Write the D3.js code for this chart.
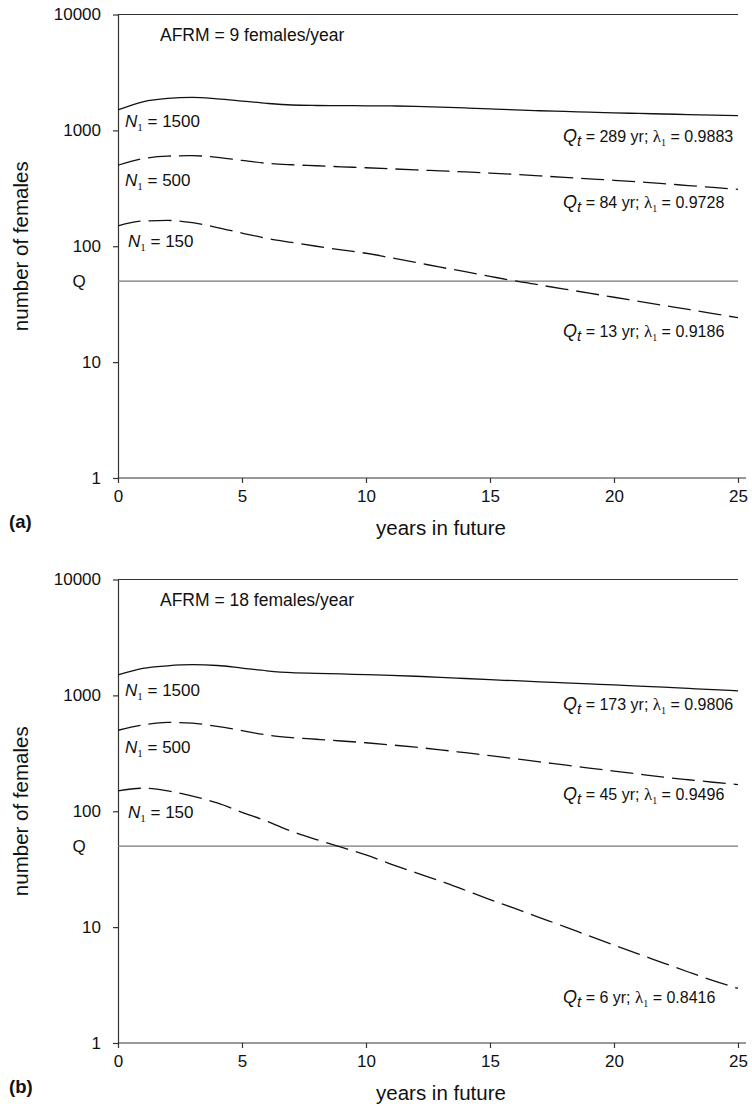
<!DOCTYPE html>
<html>
<head>
<meta charset="utf-8">
<script src="https://cdn.jsdelivr.net/npm/d3@7"></script>
<style>
  body { margin: 0; background: #fff; }
  text { font-family: "Liberation Sans", Arial, Helvetica, sans-serif; fill: #111; }
</style>
</head>
<body>
<div id="chart"></div>
<script>
// years on the x axis
var years = d3.range(0, 26);

// tick values
var xTicks = [0, 5, 10, 15, 20, 25];
var yTicks = [1, 10, 100, 1000, 10000];

// quasi-extinction threshold Q
var quasiQ = 50;

// starting sizes and AFRM per panel
var startSizes = [1500, 500, 150];
var afrm = [9, 18];
var panelNames = ["(a)", "(b)"];

// panel (a): AFRM = 9 females/year
var a1500 = [1500, 1765, 1890, 1925, 1870, 1790, 1710, 1655, 1640, 1635, 1630, 1625, 1612,
             1590, 1562, 1532, 1502, 1477, 1456, 1436, 1417, 1400, 1385, 1370, 1355, 1340];
var a500 = [500, 570, 600, 605, 585, 550, 520, 505, 495, 485, 476, 466, 456,
            447, 438, 428, 417, 405, 393, 382, 371, 359, 347, 334, 322, 310];
var a150 = [150, 165, 167, 160, 145, 130, 117, 108, 100, 93, 87, 79.5, 72.5,
            66, 60.3, 55, 50.2, 46.3, 42.7, 39.4, 36.3, 33.5, 30.9, 28.5, 26.2, 24.2];

// panel (b): AFRM = 18 females/year
var b1500 = [1500, 1710, 1800, 1840, 1810, 1720, 1630, 1570, 1550, 1530, 1510, 1490, 1462,
             1432, 1398, 1366, 1338, 1310, 1282, 1256, 1230, 1204, 1176, 1148, 1120, 1095];
var b500 = [500, 555, 585, 575, 540, 497, 455, 432, 418, 404, 390, 374, 357,
            339, 320, 302, 284, 267, 251, 236, 222, 209, 197, 187, 178, 170];
var b150 = [150, 158, 150, 135, 118, 98, 82, 67, 57, 49, 42, 35, 29.5,
            25, 20.8, 17.3, 14.5, 12.1, 10.1, 8.4, 7.0, 5.85, 4.9, 4.1, 3.45, 2.96];

// time to quasi-extinction and dominant eigenvalue
var qtYears = [[289, 84, 13], [173, 45, 6]];
var lambdas = [["0.9883", "0.9728", "0.9186"], ["0.9806", "0.9496", "0.8416"]];

var panelSeries = [[a1500, a500, a150], [b1500, b500, b150]];

var svgWidth = 752;
var svgHeight = 1112;

var svg = d3.select("#chart")
  .append("svg")
  .attr("width", svgWidth)
  .attr("height", svgHeight);

var left = 118;
var chartWidth = 620;
var chartHeight = 463.5;
var panelTops = [14.5, 579.5];

var xScale = d3.scaleLinear()
  .domain([0, 25])
  .range([left, left + chartWidth]);

// label offsets (relative to the first / last point of each curve)
var nOffsets = [[17, 21, 21], [21, 23, 27]];
var nX = [125, 125, 128];
var qOffsets = [[26, 18.5, 19], [19.5, 15.5, 14.5]];

function nLabel(g, x, y, n) {
  var t = g.append("text").attr("x", x).attr("y", y).attr("font-size", 17);
  t.append("tspan").attr("font-style", "italic").text("N");
  t.append("tspan").attr("font-family", "Liberation Serif").attr("font-size", 11).attr("dy", 4).text("1");
  t.append("tspan").attr("dy", -4).text(" = " + n);
}

function qLabel(g, x, y, qt, lam) {
  var t = g.append("text").attr("x", x).attr("y", y).attr("font-size", 16);
  t.append("tspan").attr("font-style", "italic").attr("font-size", 18).text("Q");
  t.append("tspan").attr("font-style", "italic").attr("font-size", 15).attr("dy", 4).text("t");
  t.append("tspan").attr("dy", -4).text(" = " + qt + " yr; ");
  t.append("tspan").attr("font-family", "Liberation Serif").attr("font-size", 17).text("\u03bb");
  t.append("tspan").attr("font-family", "Liberation Serif").attr("font-size", 10).attr("dy", 4).text("1");
  t.append("tspan").attr("dy", -4).text(" = " + lam);
}

panelTops.forEach(function(top, p) {
  var bottom = top + chartHeight;
  var yScale = d3.scaleLog()
    .domain([1, 10000])
    .range([bottom, top]);

  var g = svg.append("g");

  // top border
  g.append("line")
    .attr("x1", xScale(0)).attr("x2", xScale(25))
    .attr("y1", top).attr("y2", top)
    .attr("stroke", "#333").attr("stroke-width", 1.2);

  // left axis
  var leftAxis = d3.axisLeft(yScale)
    .tickValues(yTicks)
    .tickFormat(d3.format("d"))
    .tickSizeInner(5)
    .tickSizeOuter(0)
    .tickPadding(12);

  var ya = g.append("g")
    .attr("transform", "translate(" + left + ",0)")
    .call(leftAxis);
  ya.selectAll("text").attr("font-size", 17).attr("font-family", "Liberation Sans, Arial, sans-serif").attr("fill", "#111");
  ya.selectAll("line, path").attr("stroke", "#333").attr("stroke-width", 1.2);

  // bottom axis
  var bottomAxis = d3.axisBottom(xScale)
    .tickValues(xTicks)
    .tickSizeInner(5)
    .tickSizeOuter(0)
    .tickPadding(7);

  var xa = g.append("g")
    .attr("transform", "translate(0," + bottom + ")")
    .call(bottomAxis);
  xa.select(".domain").remove();
  xa.selectAll("text").attr("font-size", 17).attr("font-family", "Liberation Sans, Arial, sans-serif").attr("fill", "#111");
  xa.selectAll("line").attr("stroke", "#333").attr("stroke-width", 1.2);
  g.append("line")
    .attr("x1", left).attr("x2", 746)
    .attr("y1", bottom).attr("y2", bottom)
    .attr("stroke", "#333").attr("stroke-width", 1.2);

  // Q threshold
  g.append("line")
    .attr("x1", xScale(0)).attr("x2", xScale(25))
    .attr("y1", yScale(quasiQ)).attr("y2", yScale(quasiQ))
    .attr("stroke", "#777").attr("stroke-width", 1.4);
  g.append("text")
    .attr("x", 79).attr("y", yScale(quasiQ))
    .attr("dy", "0.35em")
    .attr("text-anchor", "middle")
    .attr("font-size", 17)
    .text("Q");

  // curves
  var line = d3.line()
    .x(function(d, i) { return xScale(years[i]); })
    .y(function(d) { return yScale(d); })
    .curve(d3.curveMonotoneX);

  panelSeries[p].forEach(function(series, s) {
    g.append("path")
      .datum(series)
      .attr("d", line)
      .attr("fill", "none")
      .attr("stroke", "#111")
      .attr("stroke-width", 1.3)
      .attr("stroke-dasharray", s === 0 ? null : "23,8");

    nLabel(g, nX[s], yScale(series[0]) + nOffsets[p][s], startSizes[s]);
    qLabel(g, 563, yScale(series[series.length - 1]) + qOffsets[p][s], qtYears[p][s], lambdas[p][s]);
  });

  // AFRM note
  g.append("text")
    .attr("x", 160).attr("y", top + 26.5)
    .attr("font-size", 17.5)
    .text("AFRM = " + afrm[p] + " females/year");

  // axis titles
  g.append("text")
    .attr("transform", "translate(28," + (top + chartHeight / 2) + ") rotate(-90)")
    .attr("text-anchor", "middle")
    .attr("font-size", 20.5)
    .text("number of females");

  g.append("text")
    .attr("x", 441).attr("y", bottom + 57)
    .attr("text-anchor", "middle")
    .attr("font-size", 20.5)
    .text("years in future");

  g.append("text")
    .attr("x", 9).attr("y", bottom + 50)
    .attr("font-size", 18.5)
    .attr("font-weight", "bold")
    .text(panelNames[p]);
});
</script>
</body>
</html>
